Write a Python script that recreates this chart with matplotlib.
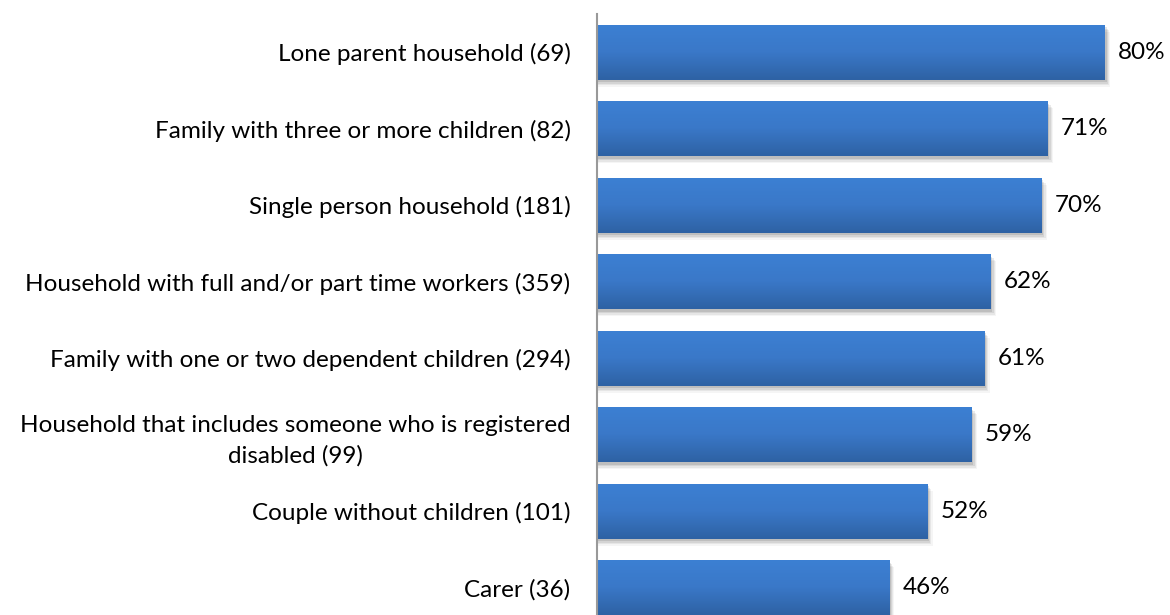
import numpy as np
import matplotlib.pyplot as plt
from matplotlib.patches import Rectangle
from matplotlib.colors import LinearSegmentedColormap

categories = [
    'Lone parent household (69)',
    'Family with three or more children (82)',
    'Single person household (181)',
    'Household with full and/or part time workers (359)',
    'Family with one or two dependent children (294)',
    'Household that includes someone who is registered\ndisabled (99)',
    'Couple without children (101)',
    'Carer (36)',
]
values = [80, 71, 70, 62, 61, 59, 52, 46]
value_labels = ['80%', '71%', '70%', '62%', '61%', '59%', '52%', '46%']

plt.rcParams['font.family'] = ['Lato', 'DejaVu Sans']

fig = plt.figure(figsize=(11.7, 6.15), dpi=100)
ax = fig.add_axes([597 / 1170, 1 - 626 / 615, 573 / 1170, 612 / 615])

bar_h = 0.72
grad = LinearSegmentedColormap.from_list('bar', ['#3c80d3', '#3a78c8', '#2e62a4'])
gimg = np.linspace(0, 1, 64).reshape(-1, 1)

for i, v in enumerate(values):
    top = i - bar_h / 2
    bot = i + bar_h / 2
    # soft shadow
    for k, a in enumerate([0.10, 0.08, 0.06, 0.04]):
        dx = 0.25 + k * 0.2
        dy = 0.03 + k * 0.02
        ax.add_patch(Rectangle((0, top + dy), v + dx, bar_h, facecolor='black',
                               edgecolor='none', alpha=a, zorder=1))
    rect = Rectangle((0, top), v, bar_h, facecolor='none', edgecolor='none', zorder=3)
    ax.add_patch(rect)
    im = ax.imshow(gimg, cmap=grad, aspect='auto', extent=(0, v, bot, top),
                   interpolation='bilinear', zorder=3)
    im.set_clip_path(rect)
    ax.text(v + 2.1, i, value_labels[i], va='center', ha='left', fontsize=17.5,
            color='#000000')

ax.set_xlim(0, 573 / 6.35)
ax.set_ylim(7.5, -0.5)
ax.set_yticks(range(len(categories)))
ax.set_yticklabels(categories, fontsize=17.5, linespacing=1.5)
ax.tick_params(axis='y', length=0, pad=19)
for lbl in ax.get_yticklabels():
    lbl.set_multialignment('center')
ax.set_xticks([])
for s in ['top', 'right', 'bottom']:
    ax.spines[s].set_visible(False)
ax.spines['left'].set_color('#999999')
ax.spines['left'].set_linewidth(1.5)
ax.spines['left'].set_zorder(5)

fig.savefig('out.png', dpi=100)
